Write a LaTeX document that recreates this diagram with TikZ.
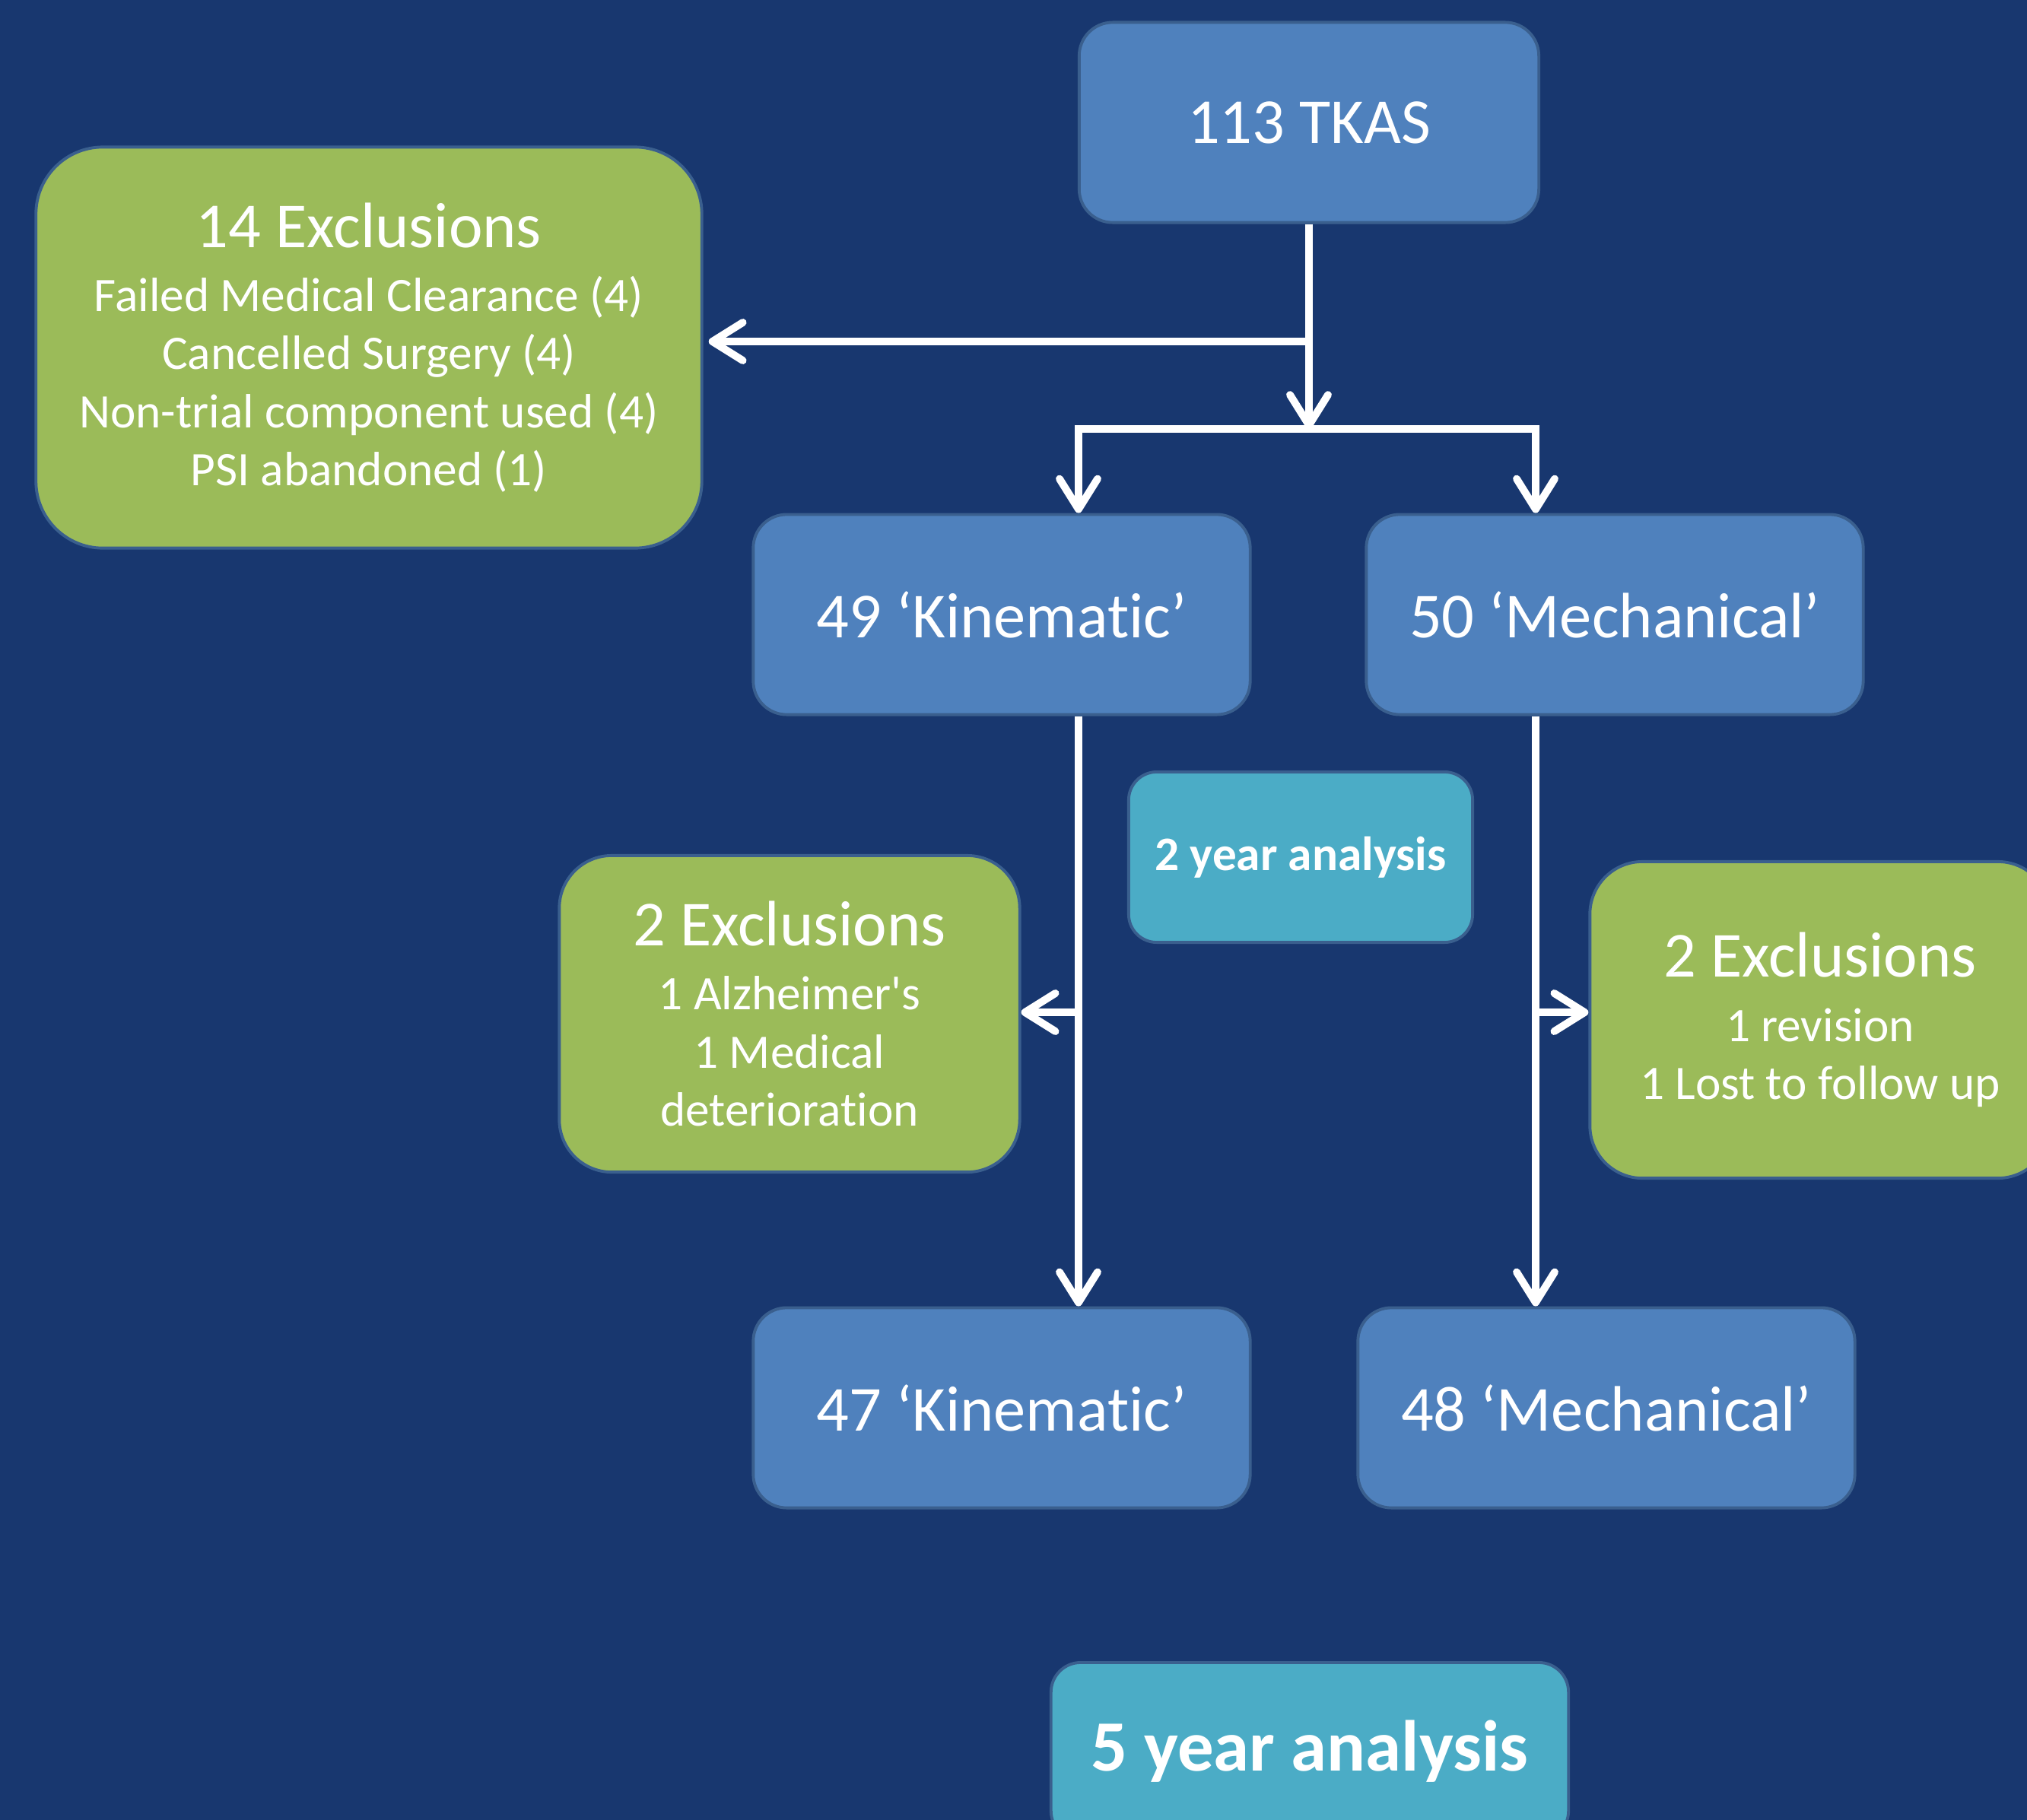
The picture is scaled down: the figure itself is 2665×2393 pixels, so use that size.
\documentclass[tikz,border=0pt]{standalone}
\usepackage{fontspec}
\setmainfont{Carlito}[Ligatures={TeX,NoCommon}]
\usetikzlibrary{arrows.meta}
\definecolor{bgblue}{HTML}{18376F}
\definecolor{boxblue}{HTML}{4F81BD}
\definecolor{boxgreen}{HTML}{9BBB59}
\definecolor{boxteal}{HTML}{4BACC6}
\definecolor{boxline}{HTML}{3A5F8E}
\newcommand{\exhead}[1]{{\fontsize{24}{24}\selectfont #1}}
\tikzset{
  box/.style={draw=boxline,line width=1.1pt,text=white,align=center,inner sep=0pt},
  bluebox/.style={box,fill=boxblue,font=\fontsize{24}{29}\selectfont,
    minimum width=6.53cm,minimum height=2.63cm,rounded corners=0.44cm},
  greenbox/.style={box,fill=boxgreen,font=\fontsize{18}{21.7}\selectfont},
  tealbox/.style={box,fill=boxteal},
  link/.style={draw=white,line width=2.8pt},
  arr/.style={link,-{Straight Barb[length=4mm,width=5mm,line cap=round,line join=round]}}
}
\begin{document}
\begin{tikzpicture}[x=0.01cm,y=-0.01cm]
  \useasboundingbox (0,0) rectangle (2665,2393);
  \fill[bgblue] (0,0) rectangle (2665,2393);
  % boxes
  \node[bluebox,minimum width=6.04cm] (tkas) at (1721,161) {113 TKAS};
  \node[greenbox,minimum width=8.75cm,minimum height=5.27cm,rounded corners=0.88cm]
    (excl14) at (485,457) {\exhead{14 Exclusions}\\[2.3pt]
    Failed Medical Clearance (4)\\ Cancelled Surgery (4)\\
    Non-trial component used (4)\\ PSI abandoned (1)};
  \node[bluebox] (kin49) at (1317,808) {49 `Kinematic'};
  \node[bluebox] (mech50) at (2123,808) {50 `Mechanical'};
  \node[tealbox,font=\fontsize{18}{22}\selectfont\bfseries,minimum width=4.52cm,
    minimum height=2.24cm,rounded corners=0.37cm] (yr2) at (1710,1127) {2 year analysis};
  \node[greenbox,minimum width=6.05cm,minimum height=4.16cm,rounded corners=0.69cm]
    (exclL) at (1038,1333) {\exhead{2 Exclusions}\\[2.3pt]
    1 Alzheimer\textquotesingle s\\ 1 Medical\\ deterioration};
  \node[greenbox,minimum width=6.05cm,minimum height=4.16cm,rounded corners=0.69cm]
    (exclR) at (2393,1341) {\exhead{2 Exclusions}\\[2.3pt]
    1 revision\\ 1 Lost to follow up};
  \node[bluebox] (kin47) at (1317,1851) {47 `Kinematic'};
  \node[bluebox] (mech48) at (2112,1851) {48 `Mechanical'};
  \node[tealbox,font=\fontsize{27}{32}\selectfont\bfseries,minimum width=6.8cm,
    minimum height=2.34cm,rounded corners=0.39cm] (yr5) at (1722,2303) {5 year analysis};
  % connectors
  \coordinate (split) at (1721,564);
  \coordinate (kdrop) at (1418,564);
  \coordinate (mdrop) at (2019,564);
  \draw[arr] (tkas.south) -- (split);
  \draw[arr,shorten >=2pt] (tkas.south |- 0,449) -- (excl14.east |- 0,449);
  \draw[arr] (split) -| (kdrop |- kin49.north);
  \draw[arr] (split) -| (mdrop |- mech50.north);
  \draw[arr] (kin49.south -| kdrop) -- (kin47.north -| kdrop);
  \draw[arr] (mech50.south -| mdrop) -- (mech48.north -| mdrop);
  \draw[arr] (kdrop |- 0,1331) -- (exclL.east |- 0,1331);
  \draw[arr] (mdrop |- 0,1331) -- (exclR.west |- 0,1331);
\end{tikzpicture}
\end{document}
